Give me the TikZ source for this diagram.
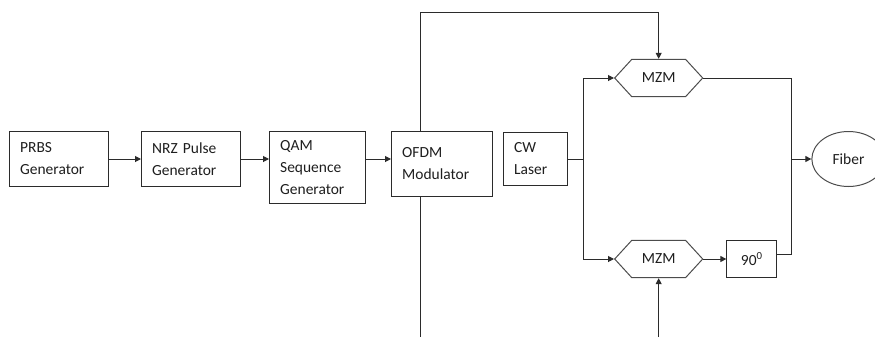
\documentclass[tikz,border=0pt]{standalone}
\usepackage{fontspec}
\setmainfont{Carlito}
\usepackage{tikz}
\usetikzlibrary{shapes.geometric,shapes.symbols,arrows.meta,positioning,calc}
\usepackage{xcolor}
\definecolor{lineclr}{HTML}{2B2B2B}
\definecolor{txtclr}{HTML}{1E1E1E}

\begin{document}
\begin{tikzpicture}[
  font=\fontsize{11.6pt}{16.5pt}\selectfont,
  text=txtclr,
  >={Triangle[length=4.5pt,width=4.5pt]},
  blk/.style={rectangle, draw=lineclr, line width=0.75pt, align=left,
              inner xsep=8pt, inner ysep=2pt},
  mzm/.style={signal, signal to=east and west, signal pointer angle=95,
              draw=black!70, line width=0.75pt, minimum width=66pt,
              minimum height=28pt, inner xsep=2pt},
  phs/.style={rectangle, draw=lineclr, line width=0.75pt,
              minimum width=37.5pt, minimum height=28pt, align=center},
  fib/.style={ellipse, draw=black!70, line width=0.75pt,
              minimum width=55pt, minimum height=41.25pt},
  flow/.style={->, draw=lineclr, line width=0.75pt},
  wire/.style={draw=lineclr, line width=0.75pt}
]

% ---------- Transmitter chain ----------
\node[blk, text width=58.25pt, minimum height=41.25pt] (prbs) {PRBS\\Generator};
\node[blk, text width=58.25pt, minimum height=41.25pt, right=24pt of prbs] (nrz)
  {NRZ Pulse\\Generator};
\node[blk, text width=56pt, minimum height=54pt,
      right=21pt of nrz.north east, anchor=north west] (qam)
  {QAM\\Sequence\\Generator};
\node[blk, text width=59.75pt, minimum height=48.75pt,
      right=18.75pt of qam.north east, anchor=north west] (ofdm)
  {OFDM\\Modulator};
\node[blk, text width=32pt, minimum height=39.75pt,
      right=7.5pt of ofdm.north east, anchor=north west, yshift=-0.75pt] (cw)
  {CW\\Laser};

% page frame
\coordinate (pgtl) at ($(prbs.north west)+(-6.75pt,98.25pt)$);
\coordinate (pgbr) at ($(prbs.north west)+(649.5pt,-154.5pt)$);
\useasboundingbox (pgtl) rectangle (pgbr);

\draw[flow] (prbs.east) -- (nrz.west);
\draw[flow] (nrz.east) -- (nrz.east -| qam.west);
\draw[flow] (nrz.east -| qam.east) -- (nrz.east -| ofdm.west);

% ---------- Optical IQ modulator ----------
\coordinate (split) at ($(cw.east)+(11.25pt,0)$);
\node[mzm, anchor=west] (mzmi) at ($(split)+(23.25pt,60.75pt)$) {MZM};
\node[mzm, anchor=west] (mzmq) at ($(split)+(23.25pt,-75pt)$) {MZM};
\node[phs, right=17.25pt of mzmq] (ph) {90\textsuperscript{0}};

\draw[wire] (cw.east) -- (split);
\draw[flow] (split) |- (mzmi.west);
\draw[flow] (split) |- (mzmq.west);
\draw[flow] (mzmq.east) -- (ph.west);

% combiner and fiber
\coordinate (comb) at ($(ph.east)+(10.5pt,3.75pt)$);
\coordinate (fibin) at (comb |- split);
\node[fib, right=15pt of fibin] (fiber) {Fiber};
\draw[wire] ([yshift=3.75pt]ph.east) -- (comb) |- (mzmi.east);
\draw[flow] (fibin) -- (fiber);

% ---------- OFDM drive signals ----------
\coordinate (tapn) at ($(ofdm.north west)!0.29!(ofdm.north east)$);
\coordinate (taps) at ($(ofdm.south west)!0.29!(ofdm.south east)$);
\coordinate (topy) at ($(pgtl)+(0,-9pt)$);
\draw[flow] (tapn) -- (tapn |- topy) -| (mzmi.north);
\draw[wire] (taps) -- (taps |- pgbr);
\draw[flow] (mzmq.south |- pgbr) -- (mzmq.south);

\end{tikzpicture}
\end{document}
